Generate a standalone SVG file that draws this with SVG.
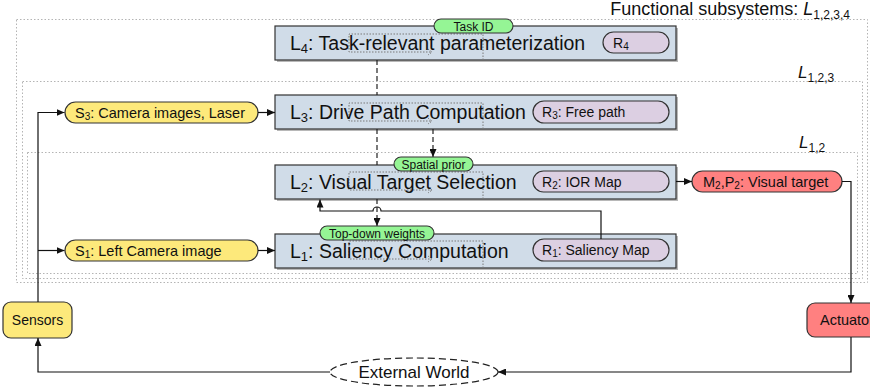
<svg xmlns="http://www.w3.org/2000/svg" width="870" height="387" viewBox="0 0 870 387">
<defs>
<marker id="arr" viewBox="0 0 8 7" refX="8" refY="3.5" markerWidth="8" markerHeight="7" markerUnits="userSpaceOnUse" orient="auto"><path d="M0,0 L8,3.5 L0,7 z" fill="#111"/></marker>
<style>
text{font-family:"Liberation Sans",Arial,sans-serif;fill:#111}
.frame{fill:none;stroke:#b4b4b4;stroke-width:1;stroke-dasharray:1.5 2}
.lbox{fill:#d0dce8;stroke:#333;stroke-width:1.2}
.shadow{fill:#888;opacity:.6}
.ltxt{font-size:19.5px}
.pill{fill:#dccfe2;stroke:#333;stroke-width:1.2}
.ptxt{font-size:14px}
.yel{fill:#fde97b;stroke:#333;stroke-width:1.2}
.red{fill:#ff8080;stroke:#333;stroke-width:1.2}
.grn{fill:#95f595;stroke:#333;stroke-width:1.1}
.gtxt{font-size:12px;text-anchor:middle}
.art{fill:none;stroke:#7a7a7a;stroke-width:1;stroke-dasharray:1.5 1.5}
.con{fill:none;stroke:#111;stroke-width:1.2}
.dash{fill:none;stroke:#222;stroke-width:1.2;stroke-dasharray:5 3}
.flab{font-size:17px}
</style>
</defs>
<g id="frames">
<rect class="frame" x="16.5" y="19.5" width="851" height="263"/>
<rect class="frame" x="22.5" y="81.5" width="840" height="197"/>
<rect class="frame" x="27.5" y="152.5" width="830" height="121"/>
<text x="850" y="15" font-size="18" text-anchor="end">Functional subsystems: <tspan font-style="italic">L</tspan><tspan font-size="12" dy="4">1,2,3,4</tspan></text>
<text class="flab" x="798" y="78"><tspan font-style="italic">L</tspan><tspan font-size="12" dy="4">1,2,3</tspan></text>
<text class="flab" x="799" y="148"><tspan font-style="italic">L</tspan><tspan font-size="12" dy="4">1,2</tspan></text>
</g>
<g id="L4">
<rect class="shadow" x="277" y="28" width="401" height="34"/>
<rect class="lbox" x="275" y="26" width="401" height="34"/>
<path class="art" d="M483,60 V34 H349 V52 H432 M428,49 L432,52 L428,55"/>
<text class="ltxt" x="290" y="50">L<tspan font-size="13" dy="3">4</tspan><tspan dy="-3">: Task-relevant parameterization</tspan></text>
<rect class="pill" x="603" y="32" width="66" height="21" rx="10.5"/>
<text class="ptxt" x="613" y="47.5">R<tspan font-size="10" dy="2">4</tspan></text>
</g>
<g id="L3">
<rect class="shadow" x="277" y="97" width="401" height="34"/>
<rect class="lbox" x="275" y="95" width="401" height="34"/>
<path class="art" d="M483,129 V103 H349 V121 H432 M428,118 L432,121 L428,124"/>
<text class="ltxt" x="290" y="119">L<tspan font-size="13" dy="3">3</tspan><tspan dy="-3">: Drive Path Computation</tspan></text>
<rect class="pill" x="533" y="101" width="136" height="22" rx="11"/>
<text class="ptxt" x="542" y="117">R<tspan font-size="10" dy="2">3</tspan><tspan dy="-2">: Free path</tspan></text>
</g>
<g id="L2">
<rect class="shadow" x="277" y="167" width="401" height="34"/>
<rect class="lbox" x="275" y="165" width="401" height="34"/>
<path class="art" d="M483,199 V172 H349 V190 H432 M428,187 L432,190 L428,193"/>
<text class="ltxt" x="290" y="189">L<tspan font-size="13" dy="3">2</tspan><tspan dy="-3">: Visual Target Selection</tspan></text>
<rect class="pill" x="533" y="171" width="136" height="21" rx="10.5"/>
<text class="ptxt" x="542" y="186.5">R<tspan font-size="10" dy="2">2</tspan><tspan dy="-2">: IOR Map</tspan></text>
</g>
<g id="L1">
<rect class="shadow" x="277" y="236" width="401" height="34"/>
<rect class="lbox" x="275" y="234" width="401" height="34"/>
<path class="art" d="M483,268 V241 H349 V259 H432 M428,256 L432,259 L428,262"/>
<text class="ltxt" x="290" y="258">L<tspan font-size="13" dy="3">1</tspan><tspan dy="-3">: Saliency Computation</tspan></text>
<rect class="pill" x="533" y="239" width="136" height="22" rx="11"/>
<text class="ptxt" x="542" y="255">R<tspan font-size="10" dy="2">1</tspan><tspan dy="-2">: Saliency Map</tspan></text>
</g>
<g id="S3">
<rect class="yel" x="65" y="102" width="193" height="21" rx="10.5"/>
<text x="75" y="117.5" font-size="14.5">S<tspan font-size="10" dy="2">3</tspan><tspan dy="-2">: Camera images, Laser</tspan></text>
</g>
<g id="S1">
<rect class="yel" x="65" y="240" width="193" height="21" rx="10.5"/>
<text x="75" y="255.5" font-size="14.5">S<tspan font-size="10" dy="2">1</tspan><tspan dy="-2">: Left Camera image</tspan></text>
</g>
<g id="Sensors">
<rect class="yel" x="3" y="302" width="69" height="36" rx="8"/>
<text x="37.5" y="325" font-size="14" text-anchor="middle">Sensors</text>
</g>
<g id="M2">
<rect class="red" x="692" y="171" width="150" height="21" rx="10.5"/>
<text x="703" y="186.5" font-size="14.5">M<tspan font-size="10" dy="2">2</tspan><tspan dy="-2">,P</tspan><tspan font-size="10" dy="2">2</tspan><tspan dy="-2">: Visual target</tspan></text>
</g>
<g id="Actuators">
<rect class="red" x="807" y="303" width="90" height="34" rx="8"/>
<text x="820" y="325" font-size="14.5">Actuators</text>
</g>
<g id="World">
<ellipse cx="414" cy="372" rx="84" ry="14" fill="#fff" stroke="#222" stroke-width="1.2" stroke-dasharray="7 4"/>
<text x="414" y="378" font-size="17" text-anchor="middle">External World</text>
</g>
<g id="connectors">
<path class="con" d="M38,302 V112.5 H64.5" marker-end="url(#arr)"/>
<path class="con" d="M38,250.5 H64.5" marker-end="url(#arr)"/>
<path class="con" d="M258,112.5 H275" marker-end="url(#arr)"/>
<path class="con" d="M258,250.5 H275" marker-end="url(#arr)"/>
<path class="con" d="M676,181.5 H692" marker-end="url(#arr)"/>
<path class="con" stroke="#555" d="M842,181.5 H851 V303" marker-end="url(#arr)"/>
<path class="con" stroke="#555" d="M851,337 V372 H498" marker-end="url(#arr)"/>
<path class="con" d="M330,372 H38 V338" marker-end="url(#arr)"/>
<path class="con" d="M601,239 V211 H381 A4,4 0 0 0 373,211 H320 V199.5" marker-end="url(#arr)"/>
<path class="dash" d="M377,60 V95 M377,129 V165"/>
<path class="dash" d="M377,199 V226" marker-end="url(#arr)"/>
<path class="dash" d="M433,129 V157" marker-end="url(#arr)"/>
</g>
<g id="tags">
<rect class="grn" x="434" y="19" width="79" height="14" rx="7"/>
<text class="gtxt" x="473.5" y="30.5">Task ID</text>
<rect class="grn" x="394" y="157" width="79" height="14" rx="7"/>
<text class="gtxt" x="433.5" y="168.5">Spatial prior</text>
<rect class="grn" x="320" y="226" width="114" height="14" rx="7"/>
<text class="gtxt" x="377" y="237.5">Top-down weights</text>
</g>
</svg>
